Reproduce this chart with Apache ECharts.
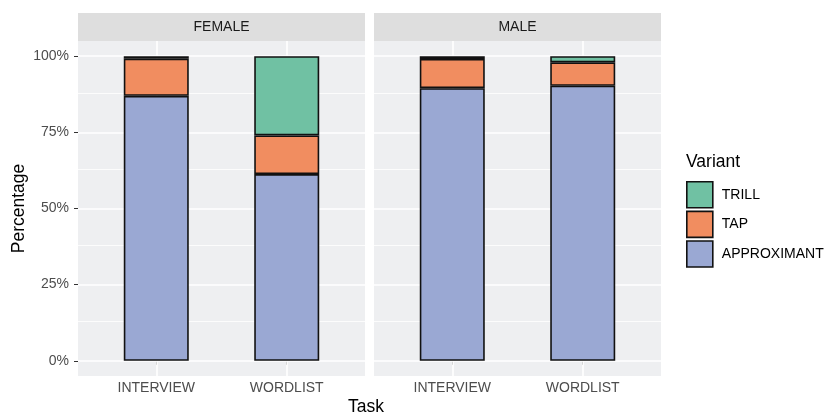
<!DOCTYPE html>
<html><head><meta charset="utf-8">
<script src="https://cdn.jsdelivr.net/npm/echarts@6/dist/echarts.min.js"></script>
<style>html,body{margin:0;padding:0;background:#fff}#c{width:831px;height:416px}</style>
</head><body><div id="c"></div>
<script>
const tasks = ['INTERVIEW', 'WORDLIST'];
const panels = ['FEMALE', 'MALE'];
const variants = ['APPROXIMANT', 'TAP', 'TRILL'];
const femaleApproximant = [0.870, 0.613];
const femaleTap = [0.122, 0.127];
const femaleTrill = [0.008, 0.260];
const maleApproximant = [0.895, 0.903];
const maleTap = [0.096, 0.077];
const maleTrill = [0.009, 0.020];
const yTicks = [0, 0.25, 0.5, 0.75, 1];
const yMinor = [0.125, 0.375, 0.625, 0.875];

const colors = { TRILL: '#70c1a3', TAP: '#f18d60', APPROXIMANT: '#9aa8d3' };
const FONT = 'Liberation Sans, Arial, sans-serif';
const panelData = [
  { APPROXIMANT: femaleApproximant, TAP: femaleTap, TRILL: femaleTrill },
  { APPROXIMANT: maleApproximant, TAP: maleTap, TRILL: maleTrill }
];
const gridLeft = [78, 374];
const gridW = 287, gridTop = 41, gridH = 335;

const grids = gridLeft.map(l => ({ left: l, top: gridTop, width: gridW, height: gridH, show: true, backgroundColor: '#eeeff1', borderWidth: 0 }));
const xAxes = gridLeft.map((l, i) => ({
  type: 'value', gridIndex: i, min: 0.4, max: 2.6,
  axisLine: { show: false }, splitLine: { show: false },
  axisTick: { show: true, customValues: [1, 2], length: 4, lineStyle: { color: '#333', width: 1 } },
  axisLabel: { customValues: [1, 2], formatter: v => tasks[Math.round(v) - 1] || '', margin: 5,
    fontSize: 14, color: '#4d4d4d', fontFamily: FONT }
}));
const yAxes = gridLeft.map((l, i) => ({
  type: 'value', gridIndex: i, min: -0.05, max: 1.05,
  axisLine: { show: false }, splitLine: { show: false },
  axisTick: { show: i === 0, customValues: yTicks, length: 4, lineStyle: { color: '#333', width: 1 } },
  axisLabel: { show: i === 0, customValues: yTicks, formatter: v => Math.round(v * 100) + '%', margin: 9,
    fontSize: 14, color: '#4d4d4d', fontFamily: FONT },
  name: i === 0 ? 'Percentage' : '', nameLocation: 'middle', nameRotate: 90, nameGap: 50,
  nameTextStyle: { fontSize: 17.5, color: '#000', fontFamily: FONT }
}));

const series = [];
panelData.forEach((pd, p) => {
  variants.forEach((v, k) => {
    const s = {
      name: v, type: 'bar', stack: 'p' + p, xAxisIndex: p, yAxisIndex: p,
      barWidth: 65, z: 3,
      encode: { x: 1, y: 0 },
      itemStyle: { color: colors[v], borderColor: '#111', borderWidth: 1.6 },
      data: pd[v].map((val, j) => [val, j + 1])
    };
    if (k === 0) {
      s.markLine = {
        silent: true, symbol: 'none', z: 1, label: { show: false },
        emphasis: { disabled: true },
        data: [
          ...yTicks.map(y => ({ yAxis: y, lineStyle: { color: '#fff', width: 1.6, type: 'solid' } })),
          ...yMinor.map(y => ({ yAxis: y, lineStyle: { color: '#fff', width: 0.8, type: 'solid' } })),
          ...[1, 2].map(x => ({ xAxis: x, lineStyle: { color: '#fff', width: 1.6, type: 'solid' } }))
        ]
      };
    }
    series.push(s);
  });
});

const graphics = [];
panels.forEach((name, i) => {
  graphics.push({ type: 'rect', shape: { x: gridLeft[i], y: 13, width: gridW, height: 28 }, style: { fill: '#dedede' }, z: 0 });
  graphics.push({ type: 'text', x: gridLeft[i] + gridW / 2, y: 27, style: { text: name, fontSize: 14, fill: '#1a1a1a', fontFamily: FONT, textAlign: 'center', textVerticalAlign: 'middle' } });
});
graphics.push({ type: 'text', x: 366, y: 407, style: { text: 'Task', fontSize: 17.5, fill: '#000', fontFamily: FONT, textAlign: 'center', textVerticalAlign: 'middle' } });
graphics.push({ type: 'text', x: 686, y: 162, style: { text: 'Variant', fontSize: 17.5, fill: '#000', fontFamily: FONT, textAlign: 'left', textVerticalAlign: 'middle' } });

const chart = echarts.init(document.getElementById('c'), null, { renderer: 'canvas' });
chart.setOption({
  animation: false,
  grid: grids, xAxis: xAxes, yAxis: yAxes, series,
  legend: {
    data: ['TRILL', 'TAP', 'APPROXIMANT'], orient: 'vertical', left: 686, top: 181, padding: 0,
    itemWidth: 26, itemHeight: 26, itemGap: 2, icon: 'rect', selectedMode: false,
    itemStyle: { borderColor: '#111', borderWidth: 1.6 },
    textStyle: { fontSize: 14, color: '#000', fontFamily: FONT, padding: [0, 0, 0, 4] }
  },
  graphic: graphics
});
</script></body></html>
